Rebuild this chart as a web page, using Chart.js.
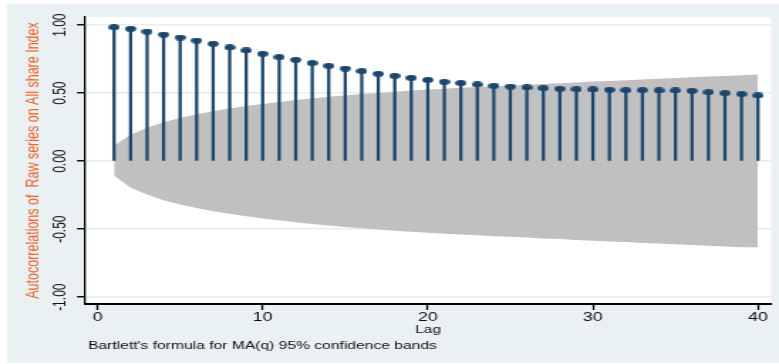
<!DOCTYPE html>
<html><head><meta charset="utf-8">
<script src="https://cdn.jsdelivr.net/npm/chart.js@4/dist/chart.umd.min.js"></script>
<style>
html,body{margin:0;padding:0;background:#fff;overflow:hidden}
</style>
</head><body>
<canvas id="c" width="548" height="364" style="display:block;width:779px;height:364px"></canvas>
<script>
// ---- data ----
const lags = [1,2,3,4,5,6,7,8,9,10,11,12,13,14,15,16,17,18,19,20,21,22,23,24,25,26,27,28,29,30,31,32,33,34,35,36,37,38,39,40];
const acf = [0.985,0.973,0.953,0.931,0.909,0.887,0.863,0.836,0.814,0.789,
             0.765,0.745,0.721,0.701,0.681,0.662,0.642,0.627,0.612,0.597,
             0.583,0.574,0.564,0.554,0.549,0.542,0.537,0.532,0.529,0.527,
             0.525,0.522,0.522,0.520,0.520,0.517,0.507,0.500,0.493,0.483];
const bandUpper = [0.113,0.195,0.245,0.287,0.318,0.345,0.368,0.387,0.405,0.421,
                   0.435,0.449,0.461,0.473,0.483,0.493,0.502,0.511,0.519,0.527,
                   0.533,0.539,0.545,0.551,0.556,0.562,0.568,0.573,0.579,0.585,
                   0.590,0.595,0.601,0.606,0.611,0.617,0.622,0.627,0.632,0.637];
const bandLower = [-0.105,-0.195,-0.245,-0.287,-0.318,-0.345,-0.368,-0.387,-0.405,-0.421,
                   -0.435,-0.449,-0.461,-0.473,-0.483,-0.493,-0.502,-0.511,-0.519,-0.527,
                   -0.533,-0.539,-0.545,-0.551,-0.556,-0.562,-0.568,-0.573,-0.579,-0.585,
                   -0.590,-0.595,-0.601,-0.606,-0.611,-0.617,-0.622,-0.627,-0.632,-0.632];
const xTicks = [0,10,20,30,40];
const yTicks = [-1,-0.5,0,0.5,1];
const yTitle = 'Autocorrelations of  Raw series on All share Index';
const xTitle = 'Lag';
const note = "Bartlett's formula for MA(q) 95% confidence bands";

// ---- styling ----
const FONT = '"Liberation Sans", Arial, Helvetica, sans-serif';
const NAVY = '#1a476f';
const BG = '#e9f1f3';
const GRID = '#e4edf1';

// ellipse marker
const marker = document.createElement('canvas');
marker.width = 8; marker.height = 6;
(function(){ const m = marker.getContext('2d'); m.fillStyle = NAVY; m.beginPath(); m.ellipse(4,3,3.9,2.9,0,0,Math.PI*2); m.fill(); })();

// y tick label alignment
const mctx = document.createElement('canvas').getContext('2d');
mctx.font = '12px ' + FONT;
const wLab = mctx.measureText('-1.00').width;
const Y_LEFT = 59.8, Y_TL = 5.6;
const yTickPad = Y_LEFT - Y_TL - wLab/2 - 42.2;

const bgPlugin = {
  id: 'bg',
  beforeDraw(chart) {
    const {ctx, chartArea: a} = chart;
    ctx.save();
    ctx.fillStyle = '#fff'; ctx.fillRect(0,0,chart.width,chart.height);
    ctx.fillStyle = BG; ctx.fillRect(4.9,4,chart.width-4.9,359);
    ctx.fillStyle = '#fff'; ctx.fillRect(a.left,a.top,a.right-a.left,a.bottom-a.top);
    ctx.restore();
  },
  afterDraw(chart) {
    const ctx = chart.ctx;
    ctx.save();
    ctx.font = '11px ' + FONT;
    ctx.fillStyle = '#111';
    ctx.textBaseline = 'middle';
    ctx.textAlign = 'left';
    ctx.fillText(note, 61.9, 346.3);
    ctx.restore();
  }
};

Chart.defaults.font.family = FONT;

new Chart(document.getElementById('c'), {
  type: 'bar',
  data: {
    datasets: [
      { type: 'line', data: lags.map((l,i)=>({x:l, y:bandUpper[i]})), borderWidth: 0, pointRadius: 0,
        backgroundColor: '#c0c0c0', borderColor: '#c0c0c0', fill: '+1', tension: 0, order: 5 },
      { type: 'line', data: lags.map((l,i)=>({x:l, y:bandLower[i]})), borderWidth: 0, pointRadius: 0,
        backgroundColor: '#c0c0c0', borderColor: '#c0c0c0', fill: false, tension: 0, order: 4 },
      { type: 'bar', data: lags.map((l,i)=>({x:l, y:acf[i]})), backgroundColor: NAVY, borderWidth: 0,
        barThickness: 1.6, order: 2 },
      { type: 'line', data: lags.map((l,i)=>({x:l, y:acf[i]})), showLine: false, pointStyle: marker,
        pointRadius: 4, order: 1 }
    ]
  },
  options: {
    responsive: false,
    animation: false,
    layout: { padding: { left: 0, right: 5.6, top: 17, bottom: 0 } },
    plugins: { legend: { display: false }, tooltip: { enabled: false } },
    scales: {
      x: {
        type: 'linear', min: -0.76, max: 40.79, offset: false,
        afterBuildTicks: s => { s.ticks = xTicks.map(v => ({value: v})); },
        afterFit: s => { s.height = 60; },
        grid: { drawOnChartArea: false, drawTicks: true, tickLength: 6, tickColor: '#000', tickWidth: 1.3, offset: false },
        border: { display: true, color: '#000', width: 2 },
        ticks: { color: '#111', font: { size: 12.5 }, padding: 0, maxRotation: 0, minRotation: 0,
                 callback: v => String(v) },
        title: { display: true, text: xTitle, color: '#111', font: { size: 11 }, padding: { top: 0, bottom: 27.8 } }
      },
      y: {
        type: 'linear', min: -1.05, max: 1.06,
        afterBuildTicks: s => { s.ticks = yTicks.map(v => ({value: v})); },
        afterFit: s => { s.width = Y_LEFT; },
        grid: { color: GRID, lineWidth: 1.5, drawTicks: true, tickLength: Y_TL, tickColor: '#000', tickWidth: 1.4 },
        border: { display: true, color: '#000', width: 1.3 },
        ticks: { color: '#111', font: { size: 12 }, minRotation: 90, maxRotation: 90, crossAlign: 'center',
                 padding: yTickPad, callback: v => Number(v).toFixed(2) },
        title: { display: true, text: yTitle, color: '#f4602a', font: { size: 12.5 }, padding: { top: 16.4, bottom: 0 } }
      }
    }
  },
  plugins: [bgPlugin]
});
</script>
</body></html>
